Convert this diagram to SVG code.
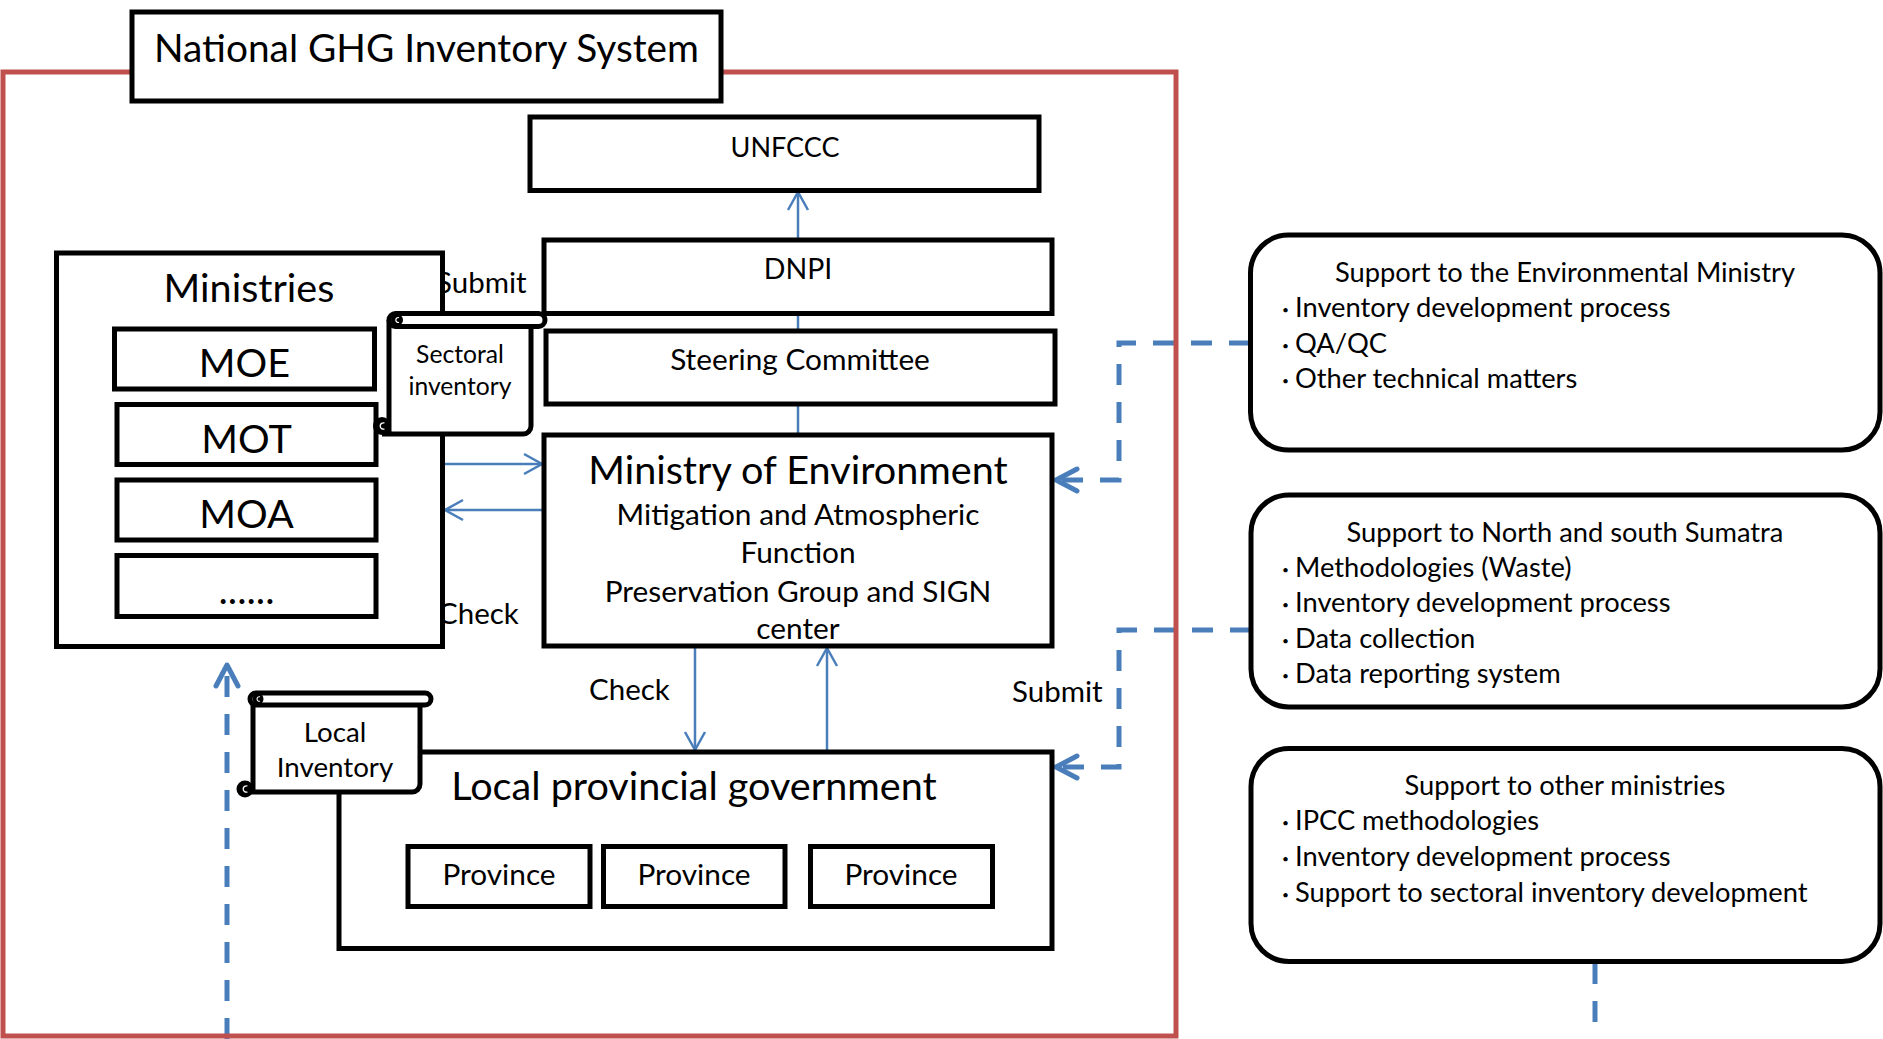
<svg xmlns="http://www.w3.org/2000/svg" width="1883" height="1039" viewBox="0 0 1883 1039">
<defs>
<style>
.bx{fill:#fff;stroke:#000;stroke-width:5}
.ln{fill:none;stroke:#000;stroke-width:5}
.t{font-family:Lato,"Liberation Sans",sans-serif;fill:#000}
.ttl{font-size:38.8px}
.big{font-size:39.6px}
.med{font-size:29.8px}
.lab{font-size:29.5px}
.rb{font-size:27.3px}
.loc{font-size:27.7px}
.sm{font-size:24.7px}
.mid{text-anchor:middle}
.blt{font-family:"Noto Sans CJK JP",sans-serif;font-size:17px;font-weight:bold}
.thin{fill:none;stroke:#4A7EBB;stroke-width:2.5}
.dash{fill:none;stroke:#4A7EBB;stroke-width:5;stroke-dasharray:21 17}
</style>
<marker id="aT" markerUnits="userSpaceOnUse" viewBox="-22 -13 26 26" refX="0" refY="0" markerWidth="26" markerHeight="26" orient="auto">
<path d="M-18,-10 L0,0 L-18,10" fill="none" stroke="#4A7EBB" stroke-width="2.5"/>
</marker>
<marker id="aD" markerUnits="userSpaceOnUse" viewBox="-28 -16 34 32" refX="0" refY="0" markerWidth="34" markerHeight="32" orient="auto">
<path d="M-21,-11 L0,0 L-21,11" fill="none" stroke="#4A7EBB" stroke-width="5" stroke-linecap="round" stroke-linejoin="round"/>
</marker>
</defs>
<rect width="1883" height="1039" fill="#fff"/>

<g id="connectors">
<path class="thin" d="M798,240 V192" marker-end="url(#aT)"/>
<path class="thin" d="M798,313 V331"/>
<path class="thin" d="M798,404 V435"/>
<path class="thin" d="M443,464 H542" marker-end="url(#aT)"/>
<path class="thin" d="M543,510 H445" marker-end="url(#aT)"/>
<path class="thin" d="M695,647 V750" marker-end="url(#aT)"/>
<path class="thin" d="M827,752 V648" marker-end="url(#aT)"/>
<path class="dash" d="M1250,343 H1119 V480 H1056" marker-end="url(#aD)"/>
<path class="dash" d="M1251,630 H1119 V767 H1056" marker-end="url(#aD)"/>
<path class="dash" d="M1595,963 V1039"/>
<path class="dash" d="M227,1039 V665" marker-end="url(#aD)"/>
<text class="t lab" x="436" y="293">Submit</text>
<text class="t lab" x="438" y="624">Check</text>
<text class="t lab" x="589" y="700">Check</text>
<text class="t lab" x="1012" y="702">Submit</text>
</g>

<g id="system-frame">
<rect x="3" y="72" width="1173" height="964" fill="none" stroke="#C0504D" stroke-width="5"/>
</g>

<g id="title">
<rect class="bx" x="132" y="12" width="589" height="89"/>
<text class="t ttl mid" x="426.5" y="62">National GHG Inventory System</text>
</g>

<g id="unfccc">
<rect class="bx" x="530" y="117" width="509" height="73.5"/>
<text class="t mid" x="785" y="157" style="font-size:27px">UNFCCC</text>
</g>

<g id="dnpi">
<rect class="bx" x="544" y="240" width="508" height="73.5"/>
<text class="t mid" x="798" y="279" style="font-size:28.5px">DNPI</text>
</g>

<g id="steering-committee">
<rect class="bx" x="546" y="331" width="509" height="73"/>
<text class="t med mid" x="800" y="370">Steering Committee</text>
</g>

<g id="ministry-of-environment">
<rect class="bx" x="544" y="435" width="508" height="211"/>
<text class="t big mid" x="798" y="484">Ministry of Environment</text>
<text class="t med mid" x="798" y="525">Mitigation and Atmospheric</text>
<text class="t med mid" x="798" y="563">Function</text>
<text class="t med mid" x="798" y="602">Preservation Group and SIGN</text>
<text class="t med mid" x="798" y="639">center</text>
</g>

<g id="ministries">
<rect class="bx" x="56.5" y="253" width="386" height="393.5"/>
<text class="t big mid" x="249" y="302">Ministries</text>
<g id="moe">
<rect class="bx" x="114.5" y="329" width="260" height="60"/>
<text class="t big mid" x="244.5" y="377">MOE</text>
</g>
<g id="mot">
<rect class="bx" x="117" y="404.5" width="259" height="60"/>
<text class="t big mid" x="246.5" y="453">MOT</text>
</g>
<g id="moa">
<rect class="bx" x="117" y="480" width="259" height="60"/>
<text class="t big mid" x="246.5" y="528">MOA</text>
</g>
<g id="other-ministries">
<rect class="bx" x="117" y="555.5" width="259" height="61"/>
<text class="t big mid" x="246.5" y="604">......</text>
</g>
</g>

<g id="local-provincial-government">
<rect class="bx" x="339" y="752" width="713" height="196.5"/>
<text class="t big mid" x="694" y="800">Local provincial government</text>
<g id="province-1">
<rect class="bx" x="408" y="846.5" width="182" height="60"/>
<text class="t med mid" x="499" y="885">Province</text>
</g>
<g id="province-2">
<rect class="bx" x="603.5" y="846.5" width="181.5" height="60"/>
<text class="t med mid" x="694" y="885">Province</text>
</g>
<g id="province-3">
<rect class="bx" x="810.5" y="846.5" width="182" height="60"/>
<text class="t med mid" x="901" y="885">Province</text>
</g>
</g>

<g id="sectoral-inventory">
<rect x="389" y="320" width="142" height="114" fill="#fff"/>
<path class="ln" d="M389,320 V434 M382,434 H523 A8,8 0 0 0 531,426 V326"/>
<rect class="bx" x="389" y="313.5" width="156" height="13" rx="6.5"/>
<circle cx="397" cy="320" r="6" fill="#000"/>
<path d="M399,317.6 A2.5,2.5 0 1 0 399,322.4" fill="none" stroke="#fff" stroke-width="1.2"/>
<circle cx="382" cy="426" r="9" fill="#000"/>
<path d="M384.5,423 A3.2,3.2 0 1 0 384.5,429" fill="none" stroke="#fff" stroke-width="1.3"/>
<text class="t sm mid" x="460" y="363">Sectoral</text>
<text class="t sm mid" x="460" y="395">inventory</text>
</g>

<g id="local-inventory">
<rect x="253" y="700" width="167" height="92" fill="#fff"/>
<path class="ln" d="M253,699 V792 M245,792 H412 A8,8 0 0 0 420,784 V704"/>
<rect class="bx" x="250" y="693" width="181" height="12" rx="6"/>
<circle cx="258" cy="699" r="5.5" fill="#000"/>
<path d="M260,696.8 A2.3,2.3 0 1 0 260,701.2" fill="none" stroke="#fff" stroke-width="1.1"/>
<circle cx="245" cy="789" r="8.5" fill="#000"/>
<path d="M247.5,786 A3.2,3.2 0 1 0 247.5,792" fill="none" stroke="#fff" stroke-width="1.3"/>
<text class="t loc mid" x="335" y="742">Local</text>
<text class="t loc mid" x="335" y="777">Inventory</text>
</g>

<g id="support-environmental-ministry">
<rect class="bx" x="1250.5" y="235" width="629.5" height="215" rx="38"/>
<text class="t rb mid" x="1565" y="282">Support to the Environmental Ministry</text>
<text class="t rb" y="317"><tspan class="blt" x="1277">・</tspan><tspan x="1295">Inventory development process</tspan></text>
<text class="t rb" y="353"><tspan class="blt" x="1277">・</tspan><tspan x="1295">QA/QC</tspan></text>
<text class="t rb" y="388"><tspan class="blt" x="1277">・</tspan><tspan x="1295">Other technical matters</tspan></text>
</g>

<g id="support-sumatra">
<rect class="bx" x="1251" y="495" width="629" height="212" rx="38"/>
<text class="t rb mid" x="1565" y="542">Support to North and south Sumatra</text>
<text class="t rb" y="577"><tspan class="blt" x="1277">・</tspan><tspan x="1295">Methodologies (Waste)</tspan></text>
<text class="t rb" y="612"><tspan class="blt" x="1277">・</tspan><tspan x="1295">Inventory development process</tspan></text>
<text class="t rb" y="648"><tspan class="blt" x="1277">・</tspan><tspan x="1295">Data collection</tspan></text>
<text class="t rb" y="683"><tspan class="blt" x="1277">・</tspan><tspan x="1295">Data reporting system</tspan></text>
</g>

<g id="support-other-ministries">
<rect class="bx" x="1251" y="748.5" width="629" height="213" rx="38"/>
<text class="t rb mid" x="1565" y="795">Support to other ministries</text>
<text class="t rb" y="830"><tspan class="blt" x="1277">・</tspan><tspan x="1295">IPCC methodologies</tspan></text>
<text class="t rb" y="866"><tspan class="blt" x="1277">・</tspan><tspan x="1295">Inventory development process</tspan></text>
<text class="t rb" y="902"><tspan class="blt" x="1277">・</tspan><tspan x="1295">Support to sectoral inventory development</tspan></text>
</g>
</svg>
